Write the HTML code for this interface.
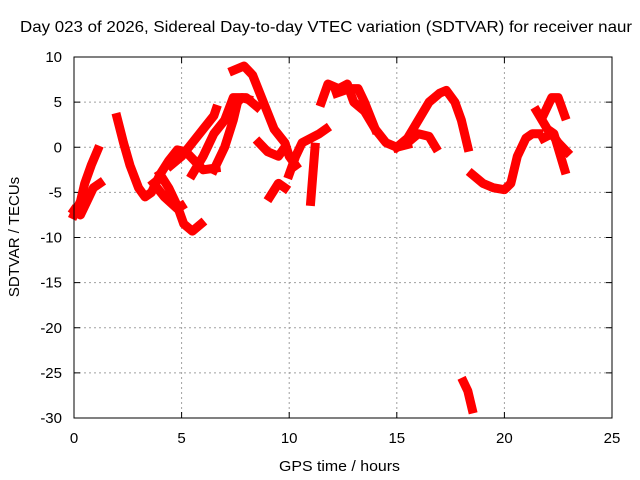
<!DOCTYPE html>
<html><head><meta charset="utf-8"><style>
body{margin:0;background:#fff}
svg{display:block;font-family:"Liberation Sans",sans-serif}
</style></head><body>
<svg id="c" width="640" height="480">
<text x="20" y="32" font-size="16" textLength="612" lengthAdjust="spacingAndGlyphs">Day 023 of 2026, Sidereal Day-to-day VTEC variation (SDTVAR) for receiver naur</text>
<text x="279" y="471" font-size="15" textLength="121" lengthAdjust="spacingAndGlyphs">GPS time / hours</text>
<text transform="translate(19,237) rotate(-90)" font-size="15" text-anchor="middle">SDTVAR / TECUs</text>
<g id="grid"></g><g id="ticks"></g><g id="series"></g>
<rect x="74" y="57" width="538" height="361" fill="none" stroke="#000"/>
</svg>
<script>
const xTicks=[0,5,10,15,20,25];
const yTicks=[10,5,0,-5,-10,-15,-20,-25,-30];
const trackA_t=[2.0,2.3,2.6,3.0,3.3,3.6,4.0,4.4,4.8,5.2,5.6,6.0,6.6];
const trackA_v=[3.3,0.5,-2,-4.5,-5.5,-5,-3,-1.5,-0.3,-0.5,-1.5,-2.5,-2.3];
const trackB_t=[0,0.3,0.5,0.8,1.1];
const trackB_v=[-7.5,-6,-4,-2,-0.3];
const trackC_t=[0,0.3,0.6,0.9,1.2];
const trackC_v=[-7,-7.5,-6,-4.5,-4];
const trackD_t=[4.0,4.4,4.8,5.1,5.5,5.9];
const trackD_v=[-3,-4.5,-6.5,-8.5,-9.3,-8.5];
const trackE_t=[3.7,4.2,4.8,5.0];
const trackE_v=[-4,-5.5,-6.8,-6.5];
const trackF_t=[4.5,5,5.5,6,6.5,6.6];
const trackF_v=[-2,-1,0.5,2,3.5,4.2];
const trackG_t=[5.5,6,6.5,7,7.4,8,8.5];
const trackG_v=[-3,-1,1.5,3,5.5,5.5,4.5];
const trackH_t=[6.5,7,7.4,7.6,7.8,8.1];
const trackH_v=[-2.5,0,3,5,5.5,5.3];
const trackI_t=[7.4,7.9,8.3,8.8,9.3,9.8,10.0,10.3];
const trackI_v=[8.5,9,8,5,2,0.5,-1,-2];
const trackJ_t=[8.6,9,9.5,9.8];
const trackJ_v=[0.5,-0.5,-1,0];
const trackK_t=[9.1,9.5,9.8];
const trackK_v=[-5.5,-4,-4.5];
const trackL_t=[10,10.3,10.6,11,11.4,11.7];
const trackL_v=[-3,-1,0.5,1,1.5,2];
const trackM_t=[11.0,11.1,11.2];
const trackM_v=[-6,-3,0];
const trackN_t=[11.5,11.8,12.3,12.7,13.0,13.5,14,14.5,15,15.5];
const trackN_v=[5,7,6.5,7,5,4,2,0.5,0,0.3];
const trackO_t=[12.2,12.8,13.2,13.5,14];
const trackO_v=[6,6.5,6.5,5,2];
const trackP_t=[15,15.5,16,16.5,16.8];
const trackP_v=[0,0.5,1.5,1.2,0];
const trackQ_t=[15,15.5,16,16.5,17,17.3,17.7,18,18.3];
const trackQ_v=[0,1,3,5,6,6.3,5,3,0];
const trackR_t=[18.5,19,19.5,20,20.3,20.6,21,21.3,21.6];
const trackR_v=[-3,-4,-4.5,-4.7,-4,-1,1,1.5,1.5];
const trackS_t=[21.8,22.2,22.5,22.8];
const trackS_v=[3.5,5.5,5.5,3.5];
const trackT_t=[21.5,22,22.3,22.8];
const trackT_v=[4,2,1.5,-2.5];
const trackU_t=[21.8,22.2,22.5,22.9];
const trackU_v=[1,1.5,0.5,-0.5];
const trackV_t=[18.1,18.3,18.5];
const trackV_v=[-26,-27,-29];
const tracks=[[trackA_t,trackA_v],[trackB_t,trackB_v],[trackC_t,trackC_v],[trackD_t,trackD_v],[trackE_t,trackE_v],[trackF_t,trackF_v],[trackG_t,trackG_v],[trackH_t,trackH_v],[trackI_t,trackI_v],[trackJ_t,trackJ_v],[trackK_t,trackK_v],[trackL_t,trackL_v],[trackM_t,trackM_v],[trackN_t,trackN_v],[trackO_t,trackO_v],[trackP_t,trackP_v],[trackQ_t,trackQ_v],[trackR_t,trackR_v],[trackS_t,trackS_v],[trackT_t,trackT_v],[trackU_t,trackU_v],[trackV_t,trackV_v]];
const NS="http://www.w3.org/2000/svg";
const X=t=>74+t*538/25, Y=v=>57+(10-v)*361/40;
const grid=document.getElementById('grid'),ticks=document.getElementById('ticks'),ser=document.getElementById('series');
function mk(tag,at,p){const e=document.createElementNS(NS,tag);for(const k in at)e.setAttribute(k,at[k]);p.appendChild(e);return e;}
xTicks.forEach(t=>{
 if(t>0&&t<25){const g=mk('line',{x1:X(t),x2:X(t),y1:57,y2:418,stroke:'#a0a0a0','stroke-dasharray':'2,3'},grid);
 
 }
 const l=mk('text',{x:X(t),y:443,'font-size':15,'text-anchor':'middle'},ticks);l.textContent=t;
 
 
 mk('line',{x1:X(t),x2:X(t),y1:418,y2:412,stroke:'#000'},ticks);
 mk('line',{x1:X(t),x2:X(t),y1:57,y2:63,stroke:'#000'},ticks);
});
yTicks.forEach(v=>{
 if(v<10&&v>-30){const g=mk('line',{x1:74,x2:612,y1:Y(v),y2:Y(v),stroke:'#a0a0a0','stroke-dasharray':'2,3'},grid);
 
 }
 const l=mk('text',{x:62,y:Y(v)+5,'font-size':15,'text-anchor':'end'},ticks);l.textContent=v;
 
 
 mk('line',{x1:74,x2:80,y1:Y(v),y2:Y(v),stroke:'#000'},ticks);
 mk('line',{x1:612,x2:606,y1:Y(v),y2:Y(v),stroke:'#000'},ticks);
});
tracks.forEach((tr,i)=>{
 const pts=tr[0].map((t,j)=>X(t)+','+Y(tr[1][j])).join(' ');
 const p=mk('polyline',{points:pts,fill:'none',stroke:'#f00','stroke-width':9,'stroke-linejoin':'round','stroke-linecap':'square'},ser);
 
 
});
</script>
</body></html>
